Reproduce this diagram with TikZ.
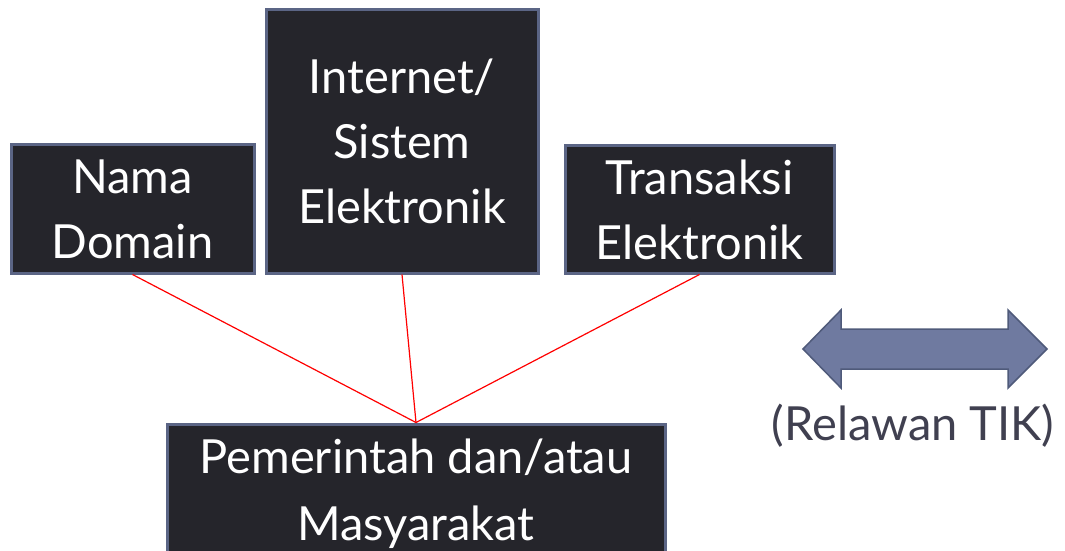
\documentclass[tikz,border=0pt]{standalone}
\usepackage{fontspec}
\setmainfont{Lato}
\definecolor{boxfill}{HTML}{25252B}
\definecolor{boxline}{HTML}{5B6585}
\definecolor{arrfill}{HTML}{6F7AA0}
\definecolor{arrline}{HTML}{4F5A7A}
\definecolor{labtext}{HTML}{404050}
\begin{document}
\begin{tikzpicture}[x=1pt,y=1pt,
  dbox/.style={draw=boxline,line width=3pt,fill=boxfill,text=white,align=center,
    font=\fontsize{47}{65}\selectfont,inner sep=0pt},
  link/.style={draw=red,line width=1.2pt}]
\useasboundingbox (0,0) rectangle (1065,550);
\clip (0,0) rectangle (1065,550);
\node[dbox,minimum width=243pt,minimum height=128pt] (nama) at (132.5,341) {Nama\\Domain};
\node[dbox,minimum width=272pt,minimum height=263pt] (inet) at (402,408.5) {Internet/\\Sistem\\Elektronik};
\node[dbox,minimum width=269pt,minimum height=127pt] (trans) at (699.5,340.5) {Transaksi\\Elektronik};
\node[dbox,minimum width=498pt,minimum height=176pt] (gov) at (416,38) {};
\node[text=white,align=center,font=\fontsize{47}{67}\selectfont,anchor=base,inner sep=0pt] (govtext) at (416,10) {Pemerintah dan/atau\\Masyarakat};
\draw[link] (nama.south) -- (gov.north);
\draw[link] (inet.south) -- (gov.north);
\draw[link] (trans.south) -- (gov.north);
\draw[draw=arrline,fill=arrfill,line width=1.5pt,line join=miter]
  (803,201) -- (841,240) -- (841,221) -- (1008,221) -- (1008,240) -- (1047,201)
  -- (1008,162) -- (1008,181) -- (841,181) -- (841,162) -- cycle;
\node[text=labtext,font=\fontsize{47}{53}\selectfont,anchor=base,inner sep=0pt] (rel) at (913,110) {(Relawan TIK)};
\end{tikzpicture}
\end{document}
